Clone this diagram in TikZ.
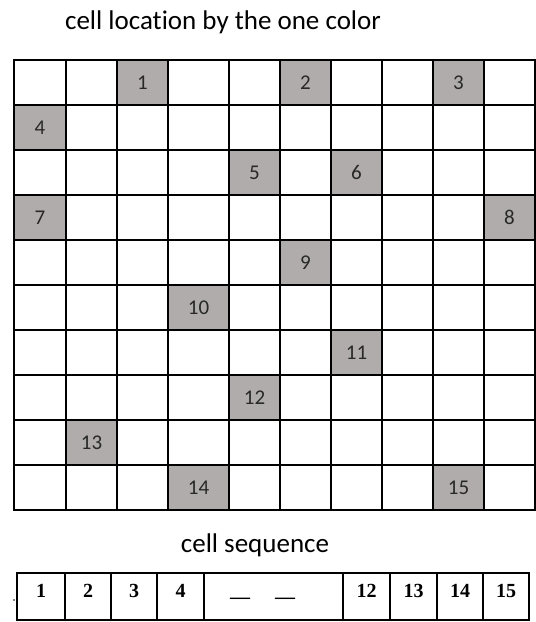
\documentclass[tikz,border=0pt]{standalone}
\usepackage{fontspec}
\setmainfont{Carlito}[Ligatures=NoCommon]
\newfontfamily\seqfont{Liberation Serif}
\definecolor{cellgray}{RGB}{176,172,171}
\definecolor{numgray}{RGB}{40,40,40}
\tikzset{
  gridline/.style={line width=2.6pt, line cap=rect},
  barline/.style={line width=1.4pt},
  cellnum/.style={inner sep=0pt, text=numgray, font=\fontsize{21}{21}\selectfont},
  seqnum/.style={inner sep=0pt, font=\seqfont\bfseries\fontsize{20}{20}\selectfont},
  titletext/.style={inner sep=0pt, anchor=base, font=\fontsize{27}{27}\selectfont},
}
\begin{document}
\begin{tikzpicture}[x=1pt,y=-1pt]
\useasboundingbox (0,0) rectangle (536,622);
\node[titletext] (title) at (223,29) {cell location by the one color};
% shaded cells
\foreach \n/\r/\c in {1/0/2,2/0/5,3/0/8,4/1/0,5/2/4,6/2/6,7/3/0,8/3/9,9/4/5,10/5/3,11/6/6,12/7/4,13/8/1,14/9/3,15/9/8}{
  \pgfmathsetmacro\xa{{14,66,117,168,229,280,331,382,433,484,535}[\c]}
  \pgfmathsetmacro\xb{{14,66,117,168,229,280,331,382,433,484,535}[\c+1]}
  \pgfmathsetmacro\ya{60+45*\r}
  \fill[cellgray] (\xa,\ya) rectangle (\xb,\ya+45);
  \node[cellnum] (c\n) at ({(\xa+\xb)/2},{\ya+22.5}) {\n};
}
% grid
\foreach \x in {14,66,117,168,229,280,331,382,433,484,535}
  \draw[gridline] (\x,60) -- (\x,510);
\foreach \y in {60,105,...,510}
  \draw[gridline] (14,\y) -- (535,\y);
% sequence
\node[titletext] (seqtitle) at (255,552) {cell sequence};
\draw[barline] (17,573) rectangle (529,620);
\foreach \x in {65,111,157,204,343,390,437,483}
  \draw[barline] (\x,573) -- (\x,620);
\foreach \t/\x in {1/41,2/88,3/134,4/180.5,12/366.5,13/413.5,14/460,15/506}
  \node[seqnum] (s\t) at (\x,591) {\t};
\node[seqnum] (dashA) at (240,601) {—};
\node[seqnum] (dashB) at (285,601) {—};
\node[circle, fill, inner sep=0.6pt] (dot) at (14,600) {};
\end{tikzpicture}
\end{document}
